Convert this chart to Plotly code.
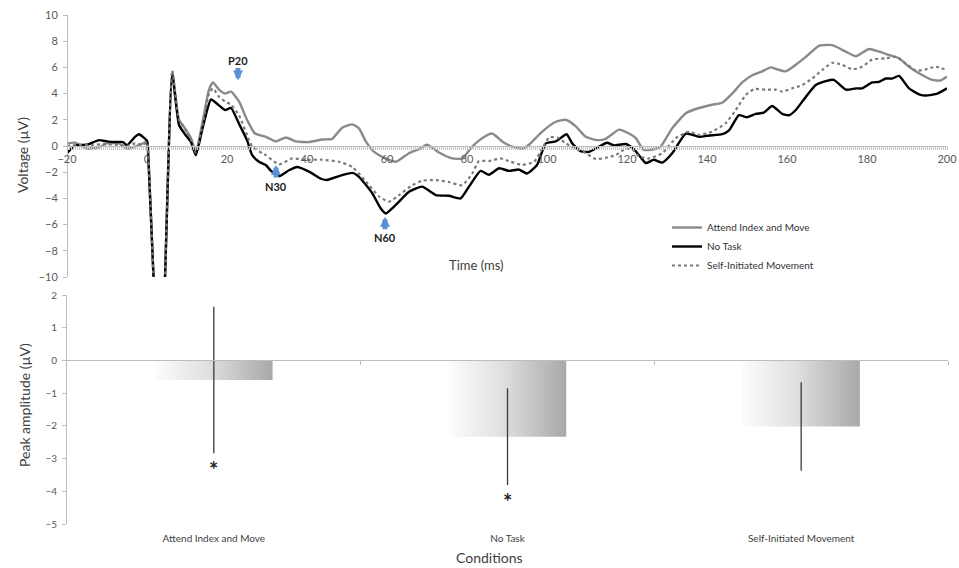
import plotly.graph_objects as go

# ---------------------------------------------------------------- data
# Grand-average waveforms: (time in ms, voltage in µV)
ATTEND_INDEX_AND_MOVE = [
    (-20, 0.2), (-18, 0.25), (-15, -0.2), (-12, -0.1), (-10, 0.2), (-7, 0.2), (-5, -0.2),
    (-3, -0.05), (-1, 0.2), (0, 0.35), (0.2, 0.0), (1.7, -10.5), (2.5, -14), (3.8, -14),
    (4.5, -10), (6.3, 5.6), (8, 2.0), (9.5, 1.35), (11, 0.6), (12.2, -0.45), (14, 2.0),
    (15.5, 4.3), (16.5, 4.85), (18, 4.3), (19.5, 4.0), (21, 4.15), (23, 3.4), (25, 2.0),
    (27, 0.95), (29.7, 0.7), (32.2, 0.35), (34.7, 0.65), (37.2, 0.35), (40.5, 0.3),
    (43.8, 0.5), (46.3, 0.55), (48.8, 1.4), (51.3, 1.65), (53, 1.35), (54.7, 0.35),
    (56.8, -0.45), (59.7, -0.95), (62.2, -1.2), (65.5, -0.55), (68, -0.25), (70, 0.1),
    (73, -0.5), (76.3, -0.95), (78.8, -0.95), (81.3, -0.05), (83.8, 0.6), (86.3, 0.95),
    (88.8, 0.35), (91.3, -0.05), (93.8, -0.2), (95.5, 0.1), (98.8, 1.1), (102.2, 1.85),
    (104.7, 2.0), (107.2, 1.5), (109.7, 0.7), (112.6, 0.45), (114.7, 0.55), (118, 1.25),
    (120.5, 0.95), (122.2, 0.6), (124.2, -0.3), (126.7, -0.25), (128.4, -0.05),
    (131.3, 1.35), (134.7, 2.5), (138, 2.9), (141.3, 3.15), (143.8, 3.3), (146.3, 4.0),
    (148.8, 4.85), (151.3, 5.4), (153.8, 5.7), (155.9, 6.0), (157.6, 5.85), (159.7, 5.7),
    (162.2, 6.2), (164.7, 6.8), (168, 7.65), (171.3, 7.7), (174.7, 7.2), (177.2, 6.85),
    (180.5, 7.4), (183, 7.2), (185.5, 6.95), (188, 6.7), (190.5, 6.05), (193, 5.55),
    (196.3, 5.05), (198.4, 5.0), (200, 5.3),
]

NO_TASK = [
    (-20, -0.55), (-18, 0.05), (-15, 0.1), (-12, 0.45), (-10, 0.35), (-8, 0.3), (-6, 0.3),
    (-5, 0.05), (-3, 0.7), (-2, 0.9), (0, 0.4), (0.2, 0.0), (1.7, -10.5), (2.5, -14),
    (3.8, -14), (4.5, -10), (6.3, 5.5), (8, 1.6), (9.5, 0.9), (11, 0.3), (12.2, -0.7),
    (14, 1.5), (16, 3.55), (18, 3.1), (19.5, 2.75), (21, 2.9), (23, 1.7), (25, 0.45),
    (26.3, -0.7), (28, -1.2), (29.7, -1.45), (31, -1.9), (33, -2.3), (35.5, -1.85),
    (37.5, -1.6), (40.5, -1.95), (43.5, -2.5), (45, -2.6), (48, -2.3), (51.3, -2.05),
    (53, -2.35), (56.3, -3.6), (58.4, -4.75), (59.7, -5.15), (62.2, -4.5), (65.5, -3.5),
    (68.8, -3.1), (72.2, -3.75), (75.5, -3.8), (78.4, -4.0), (80.5, -3.1), (83.4, -1.9),
    (85.5, -2.2), (88, -1.7), (90.5, -1.9), (93, -1.8), (95, -2.1), (97.5, -1.45),
    (99.7, 0.2), (102.2, 0.35), (104.9, 0.9), (106.3, 0.2), (108.4, -0.4), (110.5, -0.45),
    (113, -0.05), (115, 0.25), (116.7, 0.05), (119.7, 0.15), (121.7, -0.25), (123, -0.7),
    (124.7, -1.3), (126.7, -1.05), (128.8, -1.27), (131.3, -0.55), (134.7, 0.95),
    (138, 0.7), (140.5, 0.8), (143.8, 0.9), (145.5, 1.2), (148, 2.35), (150, 2.2),
    (152.2, 2.45), (154.2, 2.55), (156.3, 3.05), (158.8, 2.45), (160.5, 2.35),
    (162.2, 2.75), (164.7, 3.75), (167.2, 4.65), (169.7, 4.95), (171.7, 5.05),
    (174.7, 4.3), (177.2, 4.4), (178.8, 4.4), (181.3, 4.85), (183, 4.9), (184.7, 5.15),
    (186.3, 5.15), (188, 5.35), (190.5, 4.4), (193, 3.95), (194.7, 3.85), (197.6, 4.0),
    (200, 4.4),
]

SELF_INITIATED = [
    (-20, 0.0), (-17, 0.1), (-14, 0.05), (-11, 0.15), (-8, 0.1), (-5, 0.0), (-3, 0.2),
    (-1, 0.1), (0, 0.3), (0.2, 0.0), (1.7, -10.5), (2.5, -14), (3.8, -14), (4.5, -10),
    (6.3, 5.75), (8, 2.0), (9.5, 1.3), (11, 0.5), (12.2, -0.5), (14, 1.8), (15.5, 4.0),
    (16.5, 4.4), (18, 3.75), (19.5, 3.4), (21, 3.15), (23, 2.35), (25.5, 0.45),
    (26.3, -0.05), (28.8, -0.55), (29.7, -0.7), (33, -1.4), (36.3, -0.95), (39.7, -1.05),
    (43.8, -1.05), (48, -1.2), (51.3, -1.6), (54.7, -2.7), (58, -3.85), (60.5, -4.25),
    (63, -3.75), (66.3, -3.0), (68.8, -2.65), (72.2, -2.6), (75.5, -2.75), (78.8, -3.0),
    (81.3, -2.1), (83, -1.15), (85.5, -1.15), (88.4, -0.95), (90.9, -1.2), (93.8, -1.45),
    (96.8, -1.2), (98.8, -0.2), (100.5, 0.65), (102.6, 0.65), (104.7, 0.2), (107.2, -0.2),
    (109.7, -0.55), (112.2, -1.0), (114.7, -0.9), (117.2, -0.7), (119.7, -0.2),
    (121.5, -0.3), (123, -0.8), (125.5, -0.95), (128.8, -0.55), (132.2, 0.6),
    (135.5, 1.1), (138, 0.85), (141.3, 1.1), (144.7, 1.75), (147.2, 2.75), (149.7, 3.9),
    (151.8, 4.35), (154.7, 4.3), (157.2, 4.3), (158.8, 4.15), (161.3, 4.4), (163.8, 4.65),
    (166.3, 5.15), (168.8, 5.8), (171.3, 6.35), (173.8, 6.2), (176.3, 5.85),
    (178.8, 6.05), (181.3, 6.6), (184.7, 6.7), (187.2, 6.8), (189.7, 6.3), (192.2, 5.75),
    (194.7, 5.85), (197.2, 6.05), (200, 5.8),
]

# Peak labels on the waveform panel: (label, time ms, arrow tip µV, direction)
PEAKS = [("P20", 22.75, 5.0, "down"), ("N30", 32.25, -1.45, "up"), ("N60", 59.5, -5.4, "up")]

# Peak amplitude per condition
CONDITIONS = ["Attend Index and Move", "No Task", "Self-Initiated Movement"]
PEAK_AMPLITUDE = [-0.6, -2.33, -2.02]
PEAK_ERROR = [2.24, 1.48, 1.35]
SIGNIFICANT = [True, True, False]

X_TICKS = list(range(-20, 201, 20))

# ---------------------------------------------------------------- layout constants
W, H = 959, 568
FONT = "Lato"
TXT = "#404040"
AXC = "#bdbdbd"

X0, X1 = 67 / W, 948 / W
TOP = (1 - 277 / H, 1 - 15 / H)
BOT = (1 - 524 / H, 1 - 295 / H)
TOP_RANGE = (-10, 10)
BOT_RANGE = (-5, 2)


def paper_y(dom, rng, v):
    return dom[0] + (v - rng[0]) / (rng[1] - rng[0]) * (dom[1] - dom[0])


fig = go.Figure()

# ---------------------------------------------------------------- waveforms
series = [
    ("Attend Index and Move", ATTEND_INDEX_AND_MOVE, dict(color="#8a8a8a", width=2.4)),
    ("No Task", NO_TASK, dict(color="#000000", width=2.4)),
    ("Self-Initiated Movement", SELF_INITIATED, dict(color="#7a7a7a", width=2.2, dash="dot")),
]
for name, pts, line in series:
    t, v = zip(*pts)
    fig.add_trace(go.Scatter(
        x=t, y=v, name=name, mode="lines",
        line=dict(shape="spline", smoothing=0.5, **line),
        xaxis="x", yaxis="y", hoverinfo="skip",
    ))

# ---------------------------------------------------------------- bars (gradient fill)
BAR_W = 0.4
for i, val in enumerate(PEAK_AMPLITUDE):
    xs = [i - BAR_W / 2, i + BAR_W / 2, i + BAR_W / 2, i - BAR_W / 2, i - BAR_W / 2]
    ys = [0, 0, val, val, 0]
    fig.add_trace(go.Scatter(
        x=xs, y=ys, mode="lines", fill="toself",
        fillgradient=dict(type="horizontal",
                          colorscale=[[0, "#fcfcfc"], [0.45, "#e0e0e0"], [1, "#a8a8a8"]]),
        line=dict(width=0, color="rgba(0,0,0,0)"),
        xaxis="x2", yaxis="y2", showlegend=False, hoverinfo="skip",
    ))

# error bars on top of the bars
fig.add_trace(go.Scatter(
    x=list(range(len(CONDITIONS))), y=PEAK_AMPLITUDE, mode="markers",
    marker=dict(size=1, opacity=0),
    error_y=dict(type="data", array=PEAK_ERROR, symmetric=True, width=0,
                 thickness=1.3, color="#3a3a3a"),
    xaxis="x2", yaxis="y2", showlegend=False, hoverinfo="skip",
))

# helper trace so the zero-line axis renders
fig.add_trace(go.Scatter(x=[0], y=[0], mode="markers", marker=dict(opacity=0, size=1),
                         xaxis="x3", yaxis="y2", showlegend=False, hoverinfo="skip"))

# ---------------------------------------------------------------- annotations
ann = []
for label_text, t, tip, direction in PEAKS:
    sign = 1 if direction == "down" else -1
    ann.append(dict(x=t, y=tip, xref="x", yref="y", text="", showarrow=True,
                    ax=0, ay=-14 * sign, arrowhead=2, arrowsize=0.4, arrowwidth=5,
                    arrowcolor="#5b8fd6"))
    ann.append(dict(x=t, y=tip, xref="x", yref="y",
                    text=f"<b>{label_text}</b>", showarrow=False,
                    yshift=20 if direction == "down" else -21,
                    font=dict(family=FONT, size=11, color="#222")))

for i, (val, err, sig) in enumerate(zip(PEAK_AMPLITUDE, PEAK_ERROR, SIGNIFICANT)):
    if sig:
        ann.append(dict(x=i, y=val - err, xref="x2", yref="y2", text="<b>*</b>",
                        showarrow=False, yanchor="top", yshift=-1,
                        font=dict(family=FONT, size=22, color="#222")))


def label(x, y, text, size, angle=0):
    return dict(x=x / W, y=1 - y / H, xref="paper", yref="paper", text=text,
                textangle=angle, showarrow=False, xanchor="center", yanchor="middle",
                font=dict(family=FONT, size=size, color=TXT))


ann += [
    label(22, 155, "Voltage (µV)", 14, -90),
    label(476, 265, "Time (ms)", 13),
    label(24, 405, "Peak amplitude (µV)", 14, -90),
    label(489, 557, "Conditions", 14),
]

tickfont = dict(family=FONT, size=11, color="#595959")

fig.update_layout(
    width=W, height=H,
    margin=dict(l=0, r=0, t=0, b=0, autoexpand=False),
    paper_bgcolor="white", plot_bgcolor="white",
    font=dict(family=FONT, color=TXT),
    annotations=ann,
    showlegend=True,
    legend=dict(x=667 / W, y=1 - 213 / H, xanchor="left", yanchor="top",
                bgcolor="rgba(0,0,0,0)", font=dict(family=FONT, size=10, color="#333"),
                tracegroupgap=0, itemwidth=30),
    xaxis=dict(domain=[X0, 947 / W], range=[-20, 200], anchor="free",
               position=paper_y(TOP, TOP_RANGE, 0), automargin=False,
               tickvals=X_TICKS, showline=True, linecolor=AXC, linewidth=1,
               ticks="outside", ticklen=3, tickcolor=AXC,
               minor=dict(dtick=0.5, tick0=0, ticks="outside", ticklen=3, tickcolor="#c4c4c4"),
               showgrid=False, zeroline=False, tickfont=tickfont),
    yaxis=dict(domain=list(TOP), range=list(TOP_RANGE), dtick=2, anchor="free", position=X0,
               automargin=False, ticklabelstandoff=3,
               showline=True, linecolor=AXC, ticks="outside", ticklen=4, tickcolor=AXC,
               showgrid=False, zeroline=False, tickfont=tickfont),
    xaxis2=dict(domain=[X0, X1], range=[-0.5, 2.5], anchor="y2", automargin=False,
                tickvals=list(range(len(CONDITIONS))), ticktext=CONDITIONS,
                ticks="", showline=False, showgrid=False, zeroline=False,
                ticklabelstandoff=7,
                tickfont=dict(family=FONT, size=10, color=TXT)),
    xaxis3=dict(domain=[X0, X1], range=[-0.5, 2.5], anchor="free", overlaying="x2",
                position=paper_y(BOT, BOT_RANGE, 0), automargin=False,
                tickvals=[0.5, 1.5, 2.5], ticks="outside", ticklen=4, tickcolor=AXC,
                showticklabels=False, showline=True, linecolor=AXC, showgrid=False,
                zeroline=False),
    yaxis2=dict(domain=list(BOT), range=list(BOT_RANGE), dtick=1, anchor="x2",
                automargin=False, ticklabelstandoff=3,
                showline=True, linecolor=AXC, ticks="outside", ticklen=4, tickcolor=AXC,
                showgrid=False, zeroline=False,
                tickfont=dict(family=FONT, size=10, color="#595959")),
)

fig.write_html("out.html")
